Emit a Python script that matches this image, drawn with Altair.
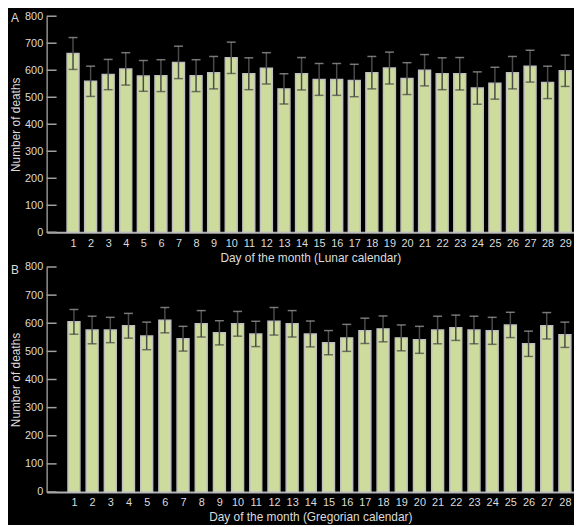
import altair as alt
import pandas as pd

# Panel A: lunar calendar
lunar_days = list(range(1, 30))
lunar_deaths = [662, 559, 584, 605, 579, 580, 629, 580, 591, 646, 587, 607, 531, 587, 566,
                566, 562, 591, 608, 569, 600, 587, 587, 534, 552, 591, 615, 555, 598]
lunar_errors = [59, 56, 56, 60, 57, 59, 60, 59, 60, 58, 59, 58, 56, 60, 59,
                59, 60, 60, 59, 59, 58, 59, 60, 60, 59, 60, 59, 60, 58]

# Panel B: Gregorian calendar
greg_days = list(range(1, 29))
greg_deaths = [605, 576, 576, 591, 555, 611, 545, 598, 566, 598, 562, 607, 598, 562,
               531, 548, 573, 580, 548, 541, 576, 584, 576, 573, 594, 527, 591, 559]
greg_errors = [44, 49, 45, 44, 49, 45, 44, 47, 43, 44, 45, 49, 47, 46,
               43, 48, 45, 46, 46, 48, 49, 45, 49, 48, 45, 45, 47, 45]

y_ticks = [0, 100, 200, 300, 400, 500, 600, 700, 800]

FONT = "Liberation Sans"
TEXT = "#dcdcdc"


def panel(days, deaths, errors, xtitle, letter, height, letter_y):
    n = len(days)
    df = pd.DataFrame({"day": days, "deaths": deaths, "err": errors})
    df["low"] = df["deaths"] - df["err"]
    df["high"] = df["deaths"] + df["err"]

    xscale = alt.Scale(domain=[-0.5, n + 0.5], nice=False, zero=False, padding=0)
    xaxis = alt.Axis(values=days, title=xtitle, ticks=False, grid=False,
                     labelPadding=5, titlePadding=4, domainColor="#b0b0b0",
                     domainWidth=2, labelFlush=False, labelOverlap=False)
    yscale = alt.Scale(domain=[0, 800], nice=False, padding=0)
    yaxis = alt.Axis(values=y_ticks, title="Number of deaths", ticks=False,
                     grid=False, labelPadding=4, titlePadding=2,
                     domainColor="#909090", domainWidth=1.5,
                     labelOverlap=False, labelFlush=False)

    def X():
        return alt.X("day:Q", scale=xscale, axis=xaxis)

    def Y(field):
        return alt.Y(field, scale=yscale, axis=yaxis)

    bars = alt.Chart(df).mark_bar(
        size=12, fill="#cddc9d", stroke="#c0c0c0", strokeWidth=1.5
    ).encode(x=X(), y=Y("deaths:Q"))
    err = alt.Chart(df).mark_rule(color="#4a4a4a", strokeWidth=1.5).encode(
        x=X(), y=Y("low:Q"), y2="high:Q"
    )
    top = alt.Chart(df).mark_tick(
        orient="horizontal", size=9, thickness=1.5, color="#a8a8a8"
    ).encode(x=X(), y=Y("high:Q"))
    bot = alt.Chart(df).mark_tick(
        orient="horizontal", size=9, thickness=1.5, color="#404040"
    ).encode(x=X(), y=Y("low:Q"))
    yt = alt.Chart(pd.DataFrame({"v": y_ticks})).mark_rule(
        color="#a0a0a0", strokeWidth=1.5
    ).encode(y=Y("v:Q"), x=alt.value(0), x2=alt.value(10))
    lab = alt.Chart(pd.DataFrame({"t": [letter]})).mark_text(
        font=FONT, fontSize=12, color=TEXT, align="center", baseline="middle"
    ).encode(text="t:N", x=alt.value(-32), y=alt.value(letter_y))
    return alt.layer(bars, err, top, bot, yt, lab).properties(width=532, height=height)


a = panel(lunar_days, lunar_deaths, lunar_errors,
          "Day of the month (Lunar calendar)", "A", 218, 2)
b = panel(greg_days, greg_deaths, greg_errors,
          "Day of the month (Gregorian calendar)", "B", 227, 3)

chart = alt.vconcat(a, b, spacing=-2).properties(
    background="black",
    padding={"left": 1, "top": 0, "right": 0, "bottom": 0},
).configure_view(stroke=None).configure_axis(
    labelFont=FONT, titleFont=FONT, labelColor=TEXT, titleColor=TEXT,
    labelFontSize=11, titleFontSize=12, titleFontWeight="normal",
    labelOverlap=False,
)

chart.save("out.html", embed_options={"renderer": "svg", "actions": False})
